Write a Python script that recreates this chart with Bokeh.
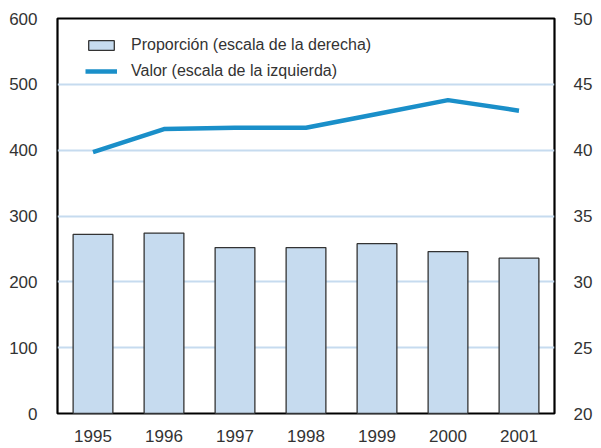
from bokeh.plotting import figure
from bokeh.models import Range1d, LinearAxis, FactorRange, FixedTicker, Legend, LegendItem, ColumnDataSource
from bokeh.embed import file_html
from bokeh.resources import INLINE

years = ["1995", "1996", "1997", "1998", "1999", "2000", "2001"]
proporcion = [33.6, 33.7, 32.6, 32.6, 32.9, 32.3, 31.8]   # right scale
valor = [397, 432, 434, 434, 455, 476, 460]                # left scale
left_ticks = [0, 100, 200, 300, 400, 500, 600]
right_ticks = [20, 25, 30, 35, 40, 45, 50]

src = ColumnDataSource(dict(year=years, prop=proporcion, val=valor))

W, H = 595, 445
p = figure(width=W, height=H, x_range=FactorRange(*years, range_padding=0),
           y_range=Range1d(0, 600), output_backend="svg", toolbar_location=None,
           min_border_left=57, min_border_right=38, min_border_top=18, min_border_bottom=32)
p.extra_y_ranges = {"right": Range1d(20, 50)}

FONT = "Liberation Sans"
p.background_fill_color = "white"
p.border_fill_color = "white"
p.outline_line_color = "black"
p.outline_line_width = 2.2

p.xgrid.grid_line_color = None
p.ygrid.ticker = FixedTicker(ticks=[100, 200, 300, 400, 500])
p.ygrid.grid_line_color = "#c6dbef"
p.ygrid.grid_line_width = 2

bars = p.vbar(x="year", top="prop", bottom=20, width=0.56, source=src, y_range_name="right",
              fill_color="#c6dbef", line_color="#333333", line_width=1.3)
line = p.line(x="year", y="val", source=src, line_color="#1a8fc9", line_width=4.5)

right_axis = LinearAxis(y_range_name="right")
p.add_layout(right_axis, "right")

for ax, ticks in ((p.yaxis[0], left_ticks), (right_axis, right_ticks)):
    ax.ticker = FixedTicker(ticks=ticks)
for ax in [p.xaxis[0], p.yaxis[0], right_axis]:
    ax.axis_line_color = None
    ax.major_tick_line_color = None
    ax.minor_tick_line_color = None
    ax.major_label_text_font = FONT
    ax.major_label_text_font_size = "17px"
    ax.major_label_text_color = "#333333"
p.yaxis[0].major_label_standoff = 14
right_axis.major_label_standoff = 13
p.xaxis[0].major_label_standoff = 10

legend = Legend(items=[LegendItem(label="Proporción (escala de la derecha)", renderers=[bars]),
                       LegendItem(label="Valor (escala de la izquierda)", renderers=[line])],
                location=(28, 333), orientation="vertical")
legend.background_fill_alpha = 0
legend.border_line_color = None
legend.padding = 0
legend.margin = 0
legend.spacing = 8
legend.glyph_width = 32
legend.glyph_height = 12
legend.label_standoff = 14
legend.label_text_font = FONT
legend.label_text_font_size = "16px"
legend.label_text_color = "#333333"
p.add_layout(legend, "center")

open("out.html", "w").write(file_html(p, INLINE))
